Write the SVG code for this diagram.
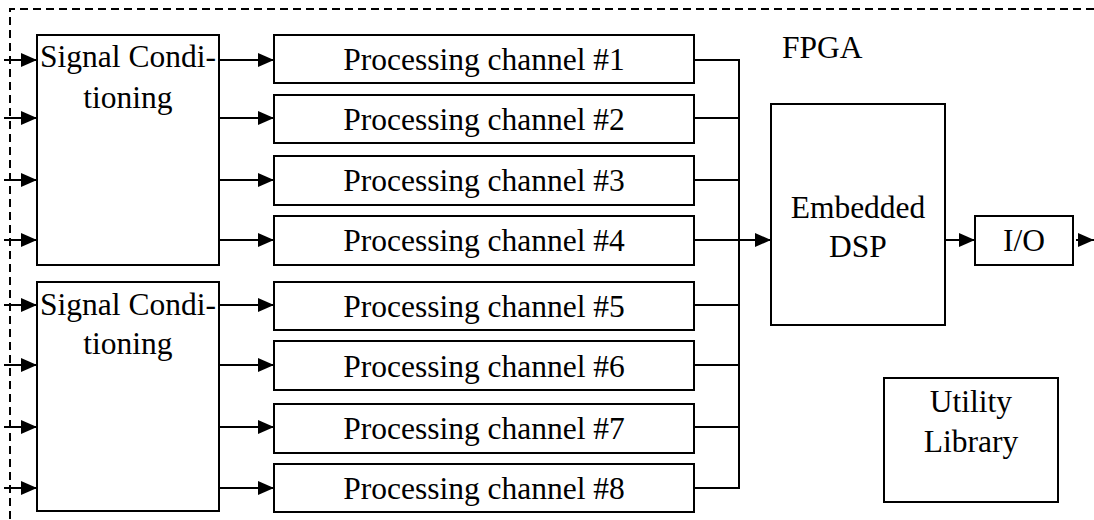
<svg xmlns="http://www.w3.org/2000/svg" width="1094" height="520" viewBox="0 0 1094 520">
<style>
.box{fill:#fff;stroke:#000;stroke-width:2}
.t{font-family:"Liberation Serif","Times New Roman",serif;font-size:31.5px;fill:#000;text-anchor:middle}
.c{fill:none;stroke:#000;stroke-width:2}
.a{fill:none;stroke:#000;stroke-width:2;marker-end:url(#ah)}
.frame{fill:none;stroke:#000;stroke-width:2;stroke-dasharray:8,5}
</style>
<defs>
<marker id="ah" markerUnits="userSpaceOnUse" markerWidth="18" markerHeight="16" refX="16" refY="8" orient="auto">
<path d="M0,1 L16,8 L0,15 Z" fill="#000"/>
</marker>
</defs>
<g id="fpga">
<path class="frame" d="M1094,9 H10 V520"/>
<text class="t" x="782" y="58" style="text-anchor:start">FPGA</text>
</g>
<g id="connectors">
<path class="a" d="M4,60 H37"/>
<path class="a" d="M4,118 H37"/>
<path class="a" d="M4,180 H37"/>
<path class="a" d="M4,240 H37"/>
<path class="a" d="M4,305 H37"/>
<path class="a" d="M4,365 H37"/>
<path class="a" d="M4,427 H37"/>
<path class="a" d="M4,488 H37"/>
<path class="a" d="M219,60 H274"/>
<path class="a" d="M219,118 H274"/>
<path class="a" d="M219,180 H274"/>
<path class="a" d="M219,240 H274"/>
<path class="a" d="M219,305 H274"/>
<path class="a" d="M219,365 H274"/>
<path class="a" d="M219,427 H274"/>
<path class="a" d="M219,488 H274"/>
<path class="c" d="M694,60 H739 M694,118 H739 M694,180 H739 M694,240 H739 M694,305 H739 M694,365 H739 M694,427 H739 M694,488 H739 M739,59 V489"/>
<path class="a" d="M739,240 H771"/>
<path class="a" d="M945,240 H975"/>
<path class="a" d="M1076,240 H1094"/>
</g>
<g id="sc1">
<rect class="box" x="37" y="35" width="182" height="230"/>
<text class="t" x="128" y="67">Signal Condi-</text>
<text class="t" x="128" y="108">tioning</text>
</g>
<g id="sc2">
<rect class="box" x="37" y="282" width="182" height="229"/>
<text class="t" x="128" y="315">Signal Condi-</text>
<text class="t" x="128" y="354">tioning</text>
</g>
<g id="pc1"><rect class="box" x="274" y="35" width="420" height="48"/><text class="t" x="484" y="70">Processing channel #1</text></g>
<g id="pc2"><rect class="box" x="274" y="95" width="420" height="48"/><text class="t" x="484" y="130">Processing channel #2</text></g>
<g id="pc3"><rect class="box" x="274" y="156" width="420" height="49"/><text class="t" x="484" y="191">Processing channel #3</text></g>
<g id="pc4"><rect class="box" x="274" y="216" width="420" height="49"/><text class="t" x="484" y="251">Processing channel #4</text></g>
<g id="pc5"><rect class="box" x="274" y="282" width="420" height="48"/><text class="t" x="484" y="317">Processing channel #5</text></g>
<g id="pc6"><rect class="box" x="274" y="341" width="420" height="49"/><text class="t" x="484" y="377">Processing channel #6</text></g>
<g id="pc7"><rect class="box" x="274" y="404" width="420" height="49"/><text class="t" x="484" y="439">Processing channel #7</text></g>
<g id="pc8"><rect class="box" x="274" y="464" width="420" height="48"/><text class="t" x="484" y="499">Processing channel #8</text></g>
<g id="dsp">
<rect class="box" x="771" y="104" width="174" height="221"/>
<text class="t" x="858" y="218">Embedded</text>
<text class="t" x="858" y="257">DSP</text>
</g>
<g id="io">
<rect class="box" x="975" y="216" width="98" height="49"/>
<text class="t" x="1024" y="251">I/O</text>
</g>
<g id="util">
<rect class="box" x="884" y="378" width="174" height="124"/>
<text class="t" x="971" y="412">Utility</text>
<text class="t" x="971" y="452">Library</text>
</g>
</svg>
